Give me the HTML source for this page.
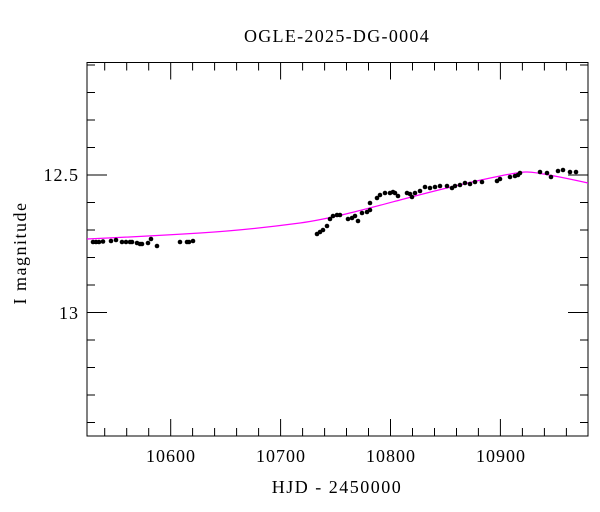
<!DOCTYPE html>
<html><head><style>
body{margin:0;background:#fff;}
svg{display:block;font-family:"Liberation Serif",serif;}
</style></head><body>
<svg width="600" height="512" xmlns="http://www.w3.org/2000/svg">
<rect width="600" height="512" fill="#fff"/>
<text x="337" y="42" font-size="18" letter-spacing="1.3" text-anchor="middle">OGLE-2025-DG-0004</text>
<text x="337" y="493" font-size="18" letter-spacing="1.5" text-anchor="middle">HJD - 2450000</text>
<text transform="translate(26,253) rotate(-90)" font-size="18" letter-spacing="1.5" text-anchor="middle">I magnitude</text>
<g font-size="18" letter-spacing="1" text-anchor="middle">
<text x="171" y="462">10600</text>
<text x="281" y="462">10700</text>
<text x="391" y="462">10800</text>
<text x="501" y="462">10900</text>
</g>
<g font-size="18" letter-spacing="1" text-anchor="end">
<text x="79" y="181">12.5</text>
<text x="79" y="319">13</text>
</g>
<g stroke="#000" stroke-width="1">
<rect x="87" y="62.5" width="501" height="373.5" fill="none"/>
<path d="M104.7,436v-8M126.7,436v-8M148.7,436v-8M170.7,436v-17M192.6,436v-8M214.6,436v-8M236.6,436v-8M258.6,436v-8M280.6,436v-17M302.6,436v-8M324.6,436v-8M346.5,436v-8M368.5,436v-8M390.5,436v-17M412.5,436v-8M434.5,436v-8M456.5,436v-8M478.4,436v-8M500.4,436v-17M522.4,436v-8M544.4,436v-8M566.4,436v-8
M104.7,62.5v8M126.7,62.5v8M148.7,62.5v8M170.7,62.5v17M192.6,62.5v8M214.6,62.5v8M236.6,62.5v8M258.6,62.5v8M280.6,62.5v17M302.6,62.5v8M324.6,62.5v8M346.5,62.5v8M368.5,62.5v8M390.5,62.5v17M412.5,62.5v8M434.5,62.5v8M456.5,62.5v8M478.4,62.5v8M500.4,62.5v17M522.4,62.5v8M544.4,62.5v8M566.4,62.5v8
M87,65h8M87,92.5h8M87,120h8M87,147.5h8M87,175h20M87,202.5h8M87,230h8M87,257.5h8M87,285h8M87,312.5h20M87,340h8M87,367.5h8M87,395h8M87,422.5h8
M588,65h-8M588,92.5h-8M588,120h-8M588,147.5h-8M588,175h-20M588,202.5h-8M588,230h-8M588,257.5h-8M588,285h-8M588,312.5h-20M588,340h-8M588,367.5h-8M588,395h-8M588,422.5h-8"/>
</g>
<path d="M87,239 C120,237.5 160,235.5 200,233 S270,227 300,223 S370,208 400,200 S470,182 500,176 S530,172 540,173.5 S570,179 588,183" fill="none" stroke="#ff00ff" stroke-width="1.2"/>
<g fill="#000">
<circle cx="93" cy="242" r="2.3"/><circle cx="96" cy="242" r="2.3"/><circle cx="99" cy="242" r="2.3"/><circle cx="103" cy="241.5" r="2.3"/>
<circle cx="111" cy="241" r="2.3"/><circle cx="116" cy="240" r="2.3"/><circle cx="122" cy="242" r="2.3"/><circle cx="126" cy="242" r="2.3"/><circle cx="130" cy="242" r="2.3"/><circle cx="132" cy="242" r="2.3"/>
<circle cx="137" cy="243" r="2.3"/><circle cx="140" cy="244" r="2.3"/><circle cx="142" cy="244" r="2.3"/><circle cx="148" cy="243" r="2.3"/><circle cx="151" cy="239" r="2.3"/><circle cx="157" cy="246" r="2.3"/>
<circle cx="180" cy="242" r="2.3"/><circle cx="187" cy="242" r="2.3"/><circle cx="189" cy="242" r="2.3"/><circle cx="193" cy="241" r="2.3"/>
<circle cx="317" cy="234" r="2.3"/><circle cx="320" cy="232" r="2.3"/><circle cx="323" cy="230" r="2.3"/><circle cx="327" cy="226" r="2.3"/><circle cx="330" cy="219" r="2.3"/><circle cx="333" cy="216" r="2.3"/><circle cx="337" cy="215" r="2.3"/><circle cx="340" cy="215" r="2.3"/>
<circle cx="348" cy="219" r="2.3"/><circle cx="352" cy="218" r="2.3"/><circle cx="355" cy="216" r="2.3"/><circle cx="358" cy="221" r="2.3"/><circle cx="362" cy="213" r="2.3"/><circle cx="367" cy="212" r="2.3"/><circle cx="370" cy="210" r="2.3"/><circle cx="370" cy="203" r="2.3"/>
<circle cx="377" cy="198" r="2.3"/><circle cx="380" cy="195" r="2.3"/><circle cx="385" cy="193" r="2.3"/><circle cx="390" cy="193" r="2.3"/><circle cx="393" cy="192" r="2.3"/><circle cx="395" cy="193" r="2.3"/><circle cx="398" cy="196" r="2.3"/>
<circle cx="407" cy="193" r="2.3"/><circle cx="410" cy="194" r="2.3"/><circle cx="412" cy="197" r="2.3"/><circle cx="415" cy="193" r="2.3"/><circle cx="420" cy="191" r="2.3"/><circle cx="425" cy="187" r="2.3"/><circle cx="430" cy="188" r="2.3"/><circle cx="435" cy="187" r="2.3"/><circle cx="440" cy="186" r="2.3"/>
<circle cx="447" cy="186" r="2.3"/><circle cx="452" cy="188" r="2.3"/><circle cx="455" cy="186" r="2.3"/><circle cx="460" cy="185" r="2.3"/><circle cx="465" cy="183" r="2.3"/><circle cx="470" cy="184" r="2.3"/><circle cx="475" cy="182" r="2.3"/><circle cx="482" cy="182" r="2.3"/>
<circle cx="497" cy="181" r="2.3"/><circle cx="500" cy="179" r="2.3"/><circle cx="510" cy="177" r="2.3"/><circle cx="515" cy="176" r="2.3"/><circle cx="518" cy="175" r="2.3"/><circle cx="520" cy="173" r="2.3"/>
<circle cx="540" cy="172" r="2.3"/><circle cx="547" cy="173" r="2.3"/><circle cx="551" cy="177" r="2.3"/><circle cx="558" cy="171" r="2.3"/><circle cx="563" cy="170" r="2.3"/><circle cx="570" cy="172" r="2.3"/><circle cx="576" cy="172" r="2.3"/>
</g>
</svg>
</body></html>
